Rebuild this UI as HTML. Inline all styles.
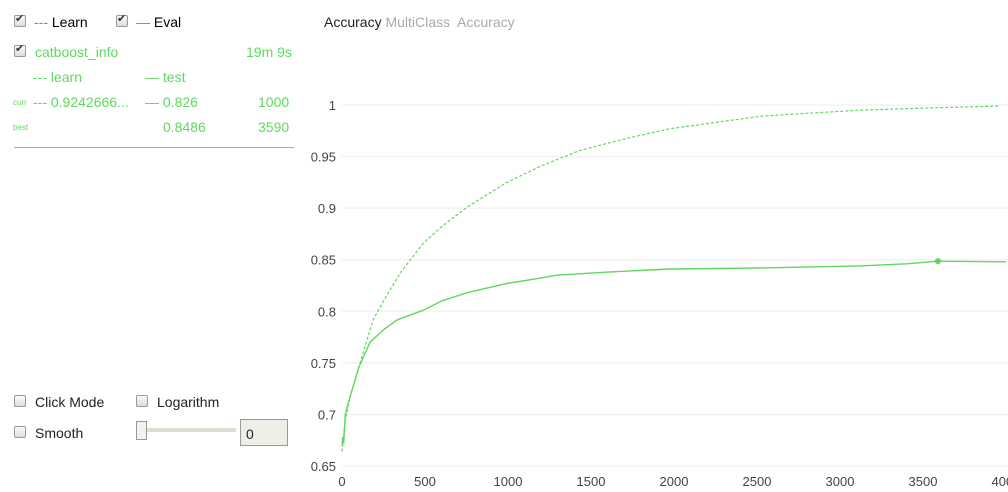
<!DOCTYPE html>
<html><head><meta charset="utf-8"><style>
body{margin:0;width:1008px;height:492px;overflow:hidden;background:#fff;font-family:"Liberation Sans",sans-serif;font-size:14px;position:relative}
.a{position:absolute;white-space:nowrap}
.cb{position:absolute;width:10px;height:10px;border:1px solid #999;border-radius:2px;background:linear-gradient(#fafafa,#ddd)}
.g{color:#5fd85f}
</style></head><body>
<div class="cb" style="left:14px;top:15px"><span class="a" style="left:0;top:-4px;font-size:11px;color:#333">✔</span></div>
<div class="a" style="left:34px;top:14px;color:#000"><span style="color:#888">---</span> Learn</div>
<div class="cb" style="left:116px;top:15px"><span class="a" style="left:0;top:-4px;font-size:11px;color:#333">✔</span></div>
<div class="a" style="left:136px;top:14px;color:#000"><span style="color:#888">—</span> Eval</div>
<div class="cb" style="left:14px;top:45px"><span class="a" style="left:0;top:-4px;font-size:11px;color:#333">✔</span></div>
<div class="a g" style="left:35px;top:44px">catboost_info</div>
<div class="a g" style="left:246px;top:44px">19m 9s</div>
<div class="a g" style="left:33px;top:69px">--- learn</div>
<div class="a g" style="left:145px;top:69px">— test</div>
<div class="a g" style="left:13px;top:98px;font-size:8px">curr</div>
<div class="a g" style="left:33px;top:94px">--- 0.9242666...</div>
<div class="a g" style="left:145px;top:94px">— 0.826</div>
<div class="a g" style="left:258px;top:94px">1000</div>
<div class="a g" style="left:13px;top:123px;font-size:8px">best</div>
<div class="a g" style="left:163px;top:119px">0.8486</div>
<div class="a g" style="left:258px;top:119px">3590</div>
<div class="a" style="left:14px;top:147px;width:280px;height:1px;background:#aaa"></div>
<div class="cb" style="left:14px;top:395px"></div>
<div class="a" style="left:35px;top:394px;color:#222">Click Mode</div>
<div class="cb" style="left:136px;top:395px"></div>
<div class="a" style="left:157px;top:394px;color:#222">Logarithm</div>
<div class="cb" style="left:14px;top:426px"></div>
<div class="a" style="left:35px;top:425px;color:#222">Smooth</div>
<div class="a" style="left:140px;top:428px;width:96px;height:4px;background:#e0dcd4"></div>
<div class="a" style="left:136px;top:421px;width:9px;height:17px;border:1px solid #999;background:#f4f2ec"></div>
<div class="a" style="left:240px;top:419px;width:48px;height:27px;border:1px solid #999;background:#eeede6;box-sizing:border-box;padding:6px 5px;font-size:14px;color:#222">0</div>
<div class="a" style="left:324px;top:14px;color:#222">Accuracy <span style="color:#aaa">MultiClass&nbsp; Accuracy</span></div>
<svg class="a" style="left:0;top:0" width="1008" height="492" id="ch"></svg>
<script>
const xTicks=[0,500,1000,1500,2000,2500,3000,3500,4000];
const yTicks=[0.65,0.7,0.75,0.8,0.85,0.9,0.95,1];
const learnIter=[0,10,20,50,100,187,250,350,490,600,753,994,1200,1434,1700,1976,2200,2518,2800,3120,3500,3964];
const learnVal=[0.664,0.68,0.695,0.718,0.745,0.7915,0.81,0.837,0.866,0.882,0.901,0.925,0.941,0.956,0.967,0.977,0.982,0.989,0.992,0.995,0.997,0.999];
const testIter=[0,5,10,20,48,100,169,250,331,490,600,753,994,1150,1295,1600,1976,2518,3120,3400,3590,4000];
const testVal=[0.67,0.678,0.672,0.7,0.717,0.745,0.77,0.782,0.7915,0.801,0.81,0.818,0.827,0.831,0.835,0.838,0.841,0.842,0.844,0.846,0.8486,0.848];
const bestIter=3590, bestVal=0.8486;
const X=v=>342+v*0.166, Y=v=>105+(1-v)/0.05*51.57;
const s=document.getElementById('ch'),N='http://www.w3.org/2000/svg';
function mk(t,a,p){const e=document.createElementNS(N,t);for(const k in a)e.setAttribute(k,a[k]);(p||s).appendChild(e);return e;}
yTicks.forEach(v=>{const l=mk('line',{x1:342,x2:1008,y1:Y(v),y2:Y(v),stroke:'#eee'});


const t=mk('text',{x:336,y:Y(v)+5,'text-anchor':'end','font-size':13,fill:'#444','font-family':'Liberation Sans'});t.textContent=String(v);

});
xTicks.forEach(v=>{const t=mk('text',{x:X(v),y:486,'text-anchor':'middle','font-size':13,fill:'#444','font-family':'Liberation Sans'});t.textContent=String(v);

});
function path(xs,ys){return xs.map((x,i)=>(i?'L':'M')+X(x).toFixed(1)+','+Y(ys[i]).toFixed(1)).join('');}
const lp=mk('path',{d:path(learnIter,learnVal),fill:'none',stroke:'#5fd85f','stroke-width':1.2,'stroke-dasharray':'3,2'});


const tp=mk('path',{d:path(testIter,testVal),fill:'none',stroke:'#5fd85f','stroke-width':1.4});


const d=mk('circle',{cx:X(bestIter),cy:Y(bestVal),r:3,fill:'#5fd85f'});


</script>
</body></html>
